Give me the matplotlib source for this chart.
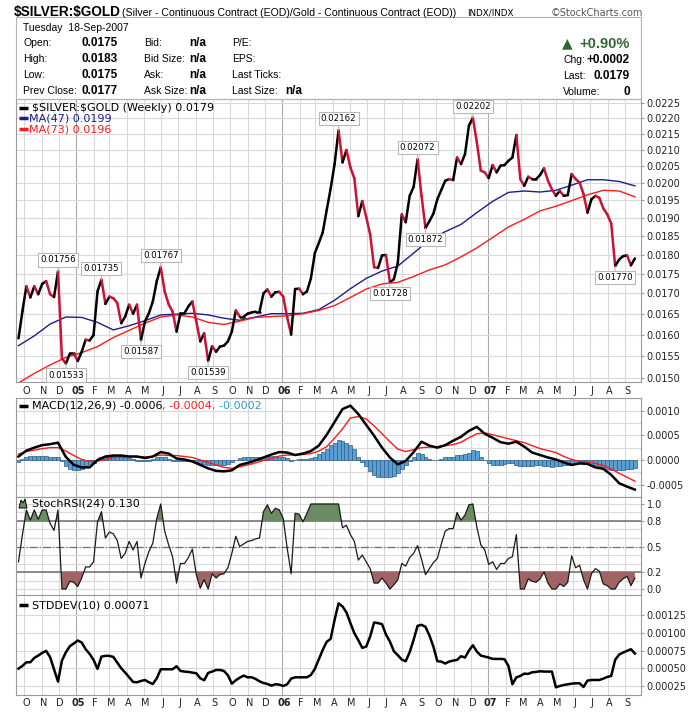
import numpy as np
import pandas as pd
import matplotlib
matplotlib.use('Agg')
import matplotlib.pyplot as plt
from matplotlib.patches import Rectangle, Polygon
from matplotlib.ticker import FixedLocator, NullLocator, NullFormatter, FormatStrFormatter, MultipleLocator

plt.rcParams['font.family'] = ['DejaVu Sans']

# weekly close of $SILVER:$GOLD, 21-Sep-2004 .. 18-Sep-2007
price = [
    0.01591, 0.01656, 0.01718, 0.01690, 0.01718, 0.01698, 0.01724, 0.01731, 0.01698, 0.01691,
    0.01756, 0.01545, 0.01533, 0.01556, 0.01556, 0.01539, 0.01560, 0.01588, 0.01586, 0.01599,
    0.01705, 0.01735, 0.01674, 0.01692, 0.01688, 0.01676, 0.01627, 0.01643, 0.01672, 0.01650,
    0.01672, 0.01587, 0.01631, 0.01651, 0.01680, 0.01731, 0.01767, 0.01705, 0.01673, 0.01655,
    0.01607, 0.01651, 0.01651, 0.01668, 0.01680, 0.01631, 0.01584, 0.01603, 0.01539, 0.01573,
    0.01560, 0.01572, 0.01574, 0.01584, 0.01607, 0.01658, 0.01643, 0.01643, 0.01650, 0.01653,
    0.01655, 0.01655, 0.01700, 0.01710, 0.01692, 0.01703, 0.01704, 0.01692, 0.01641, 0.01600,
    0.01711, 0.01712, 0.01698, 0.01705, 0.01738, 0.01804, 0.01831, 0.01860, 0.01922, 0.01984,
    0.02057, 0.02162, 0.02062, 0.02100, 0.02047, 0.02014, 0.01905, 0.01948, 0.01903, 0.01854,
    0.01767, 0.01765, 0.01798, 0.01799, 0.01728, 0.01736, 0.01778, 0.01910, 0.01888, 0.01963,
    0.01989, 0.02072, 0.01963, 0.01872, 0.01891, 0.01912, 0.01953, 0.01980, 0.02007, 0.02012,
    0.02009, 0.02077, 0.02057, 0.02087, 0.02177, 0.02202, 0.02124, 0.02037, 0.02032, 0.02015,
    0.02054, 0.02032, 0.02052, 0.02054, 0.02067, 0.02077, 0.02147, 0.02012, 0.01992, 0.02019,
    0.02012, 0.02012, 0.02024, 0.02044, 0.02007, 0.01982, 0.01963, 0.01977, 0.01963, 0.01965,
    0.02027, 0.02012, 0.02002, 0.01968, 0.01915, 0.01953, 0.01963, 0.01957, 0.01927, 0.01910,
    0.01885, 0.01770, 0.01787, 0.01796, 0.01798, 0.01772, 0.01790,
]

# moving averages, read every 4th week
ma47 = [
    0.01574, 0.01597, 0.01625, 0.01642, 0.01641, 0.01629, 0.01611, 0.01621, 0.01633, 0.01647,
    0.01649, 0.01651, 0.01647, 0.01639, 0.01634, 0.01642, 0.01650, 0.01650, 0.01651, 0.01660,
    0.01683, 0.01712, 0.01738, 0.01757, 0.01770, 0.01804, 0.01840, 0.01862, 0.01882, 0.01915,
    0.01947, 0.01973, 0.01977, 0.01974, 0.01979, 0.01994, 0.02010, 0.02010, 0.02005, 0.01992,
]
ma73 = [
    0.01490, 0.01511, 0.01530, 0.01547, 0.01558, 0.01572, 0.01593, 0.01610, 0.01627, 0.01642,
    0.01647, 0.01642, 0.01629, 0.01624, 0.01632, 0.01641, 0.01643, 0.01645, 0.01650, 0.01658,
    0.01670, 0.01690, 0.01711, 0.01724, 0.01728, 0.01743, 0.01760, 0.01773, 0.01794, 0.01818,
    0.01846, 0.01875, 0.01896, 0.01920, 0.01933, 0.01949, 0.01966, 0.01979, 0.01977, 0.01960,
]

# MACD(12,26,9) line and signal, read every 2nd week
macd_line = [
    0.00007, 0.00019, 0.00025, 0.00030, 0.00032, 0.00035, 0.00006, -0.00010, -0.00015, -0.00015,
    0.00000, 0.00007, 0.00009, 0.00009, 0.00007, 0.00007, 0.00004, 0.00007, 0.00016, 0.00013,
    0.00003, 0.00001, -0.00003, -0.00010, -0.00017, -0.00022, -0.00023, -0.00021, -0.00010, -0.00006,
    -0.00001, 0.00005, 0.00011, 0.00016, 0.00015, 0.00010, 0.00013, 0.00018, 0.00029, 0.00051,
    0.00077, 0.00103, 0.00110, 0.00093, 0.00071, 0.00049, 0.00025, 0.00005, -0.00009, -0.00002,
    0.00016, 0.00037, 0.00029, 0.00025, 0.00030, 0.00039, 0.00047, 0.00059, 0.00067, 0.00053,
    0.00045, 0.00036, 0.00033, 0.00037, 0.00027, 0.00015, 0.00010, 0.00005, 0.00001, -0.00005,
    -0.00010, -0.00007, -0.00008, -0.00015, -0.00018, -0.00030, -0.00047, -0.00054, -0.00060,
]
macd_signal = [
    0.00012, 0.00017, 0.00020, 0.00023, 0.00025, 0.00025, 0.00018, 0.00009, 0.00001, -0.00003,
    -0.00002, 0.00001, 0.00005, 0.00007, 0.00007, 0.00007, 0.00006, 0.00007, 0.00010, 0.00009,
    0.00009, 0.00007, 0.00005, 0.00000, -0.00005, -0.00010, -0.00015, -0.00017, -0.00014, -0.00010,
    -0.00006, -0.00001, 0.00003, 0.00008, 0.00010, 0.00010, 0.00011, 0.00013, 0.00018, 0.00027,
    0.00044, 0.00063, 0.00085, 0.00088, 0.00083, 0.00069, 0.00053, 0.00037, 0.00022, 0.00017,
    0.00021, 0.00025, 0.00026, 0.00027, 0.00029, 0.00031, 0.00036, 0.00045, 0.00053, 0.00055,
    0.00051, 0.00047, 0.00043, 0.00039, 0.00035, 0.00029, 0.00023, 0.00019, 0.00015, 0.00007,
    0.00001, -0.00003, -0.00004, -0.00007, -0.00011, -0.00018, -0.00027, -0.00035, -0.00043,
]
macd_hist = [
    -0.00005, 0.00002, 0.00007, 0.00008, 0.00009, 0.00009, 0.00009, 0.00009, 0.00007, 0.00007,
    0.00005, -0.00003, -0.00013, -0.00018, -0.00020, -0.00020, -0.00018, -0.00013, -0.00009, -0.00007,
    -0.00001, 0.00005, 0.00007, 0.00007, 0.00008, 0.00007, 0.00006, 0.00005, 0.00004, 0.00002,
    -0.00002, -0.00003, -0.00003, -0.00002, 0.00002, 0.00005, 0.00005, 0.00005, 0.00002, -0.00002,
    -0.00003, -0.00003, -0.00003, -0.00003, -0.00003, -0.00005, -0.00007, -0.00009, -0.00011, -0.00011,
    -0.00011, -0.00011, -0.00010, -0.00008, -0.00005, 0.00000, 0.00003, 0.00005, 0.00005, 0.00005,
    0.00006, 0.00006, 0.00007, 0.00007, 0.00008, 0.00008, 0.00007, 0.00006, 0.00003, -0.00003,
    -0.00001, 0.00001, 0.00002, 0.00002, 0.00003, 0.00007, 0.00012, 0.00017, 0.00023, 0.00030,
    0.00035, 0.00041, 0.00039, 0.00035, 0.00030, 0.00023, 0.00005, -0.00005, -0.00012, -0.00022,
    -0.00031, -0.00035, -0.00035, -0.00035, -0.00035, -0.00033, -0.00027, -0.00018, -0.00010, -0.00002,
    0.00006, 0.00015, 0.00013, 0.00005, 0.00002, 0.00000, 0.00000, 0.00002, 0.00005, 0.00006,
    0.00007, 0.00010, 0.00011, 0.00013, 0.00015, 0.00021, 0.00018, 0.00007, -0.00001, -0.00007,
    -0.00010, -0.00010, -0.00010, -0.00009, -0.00007, -0.00007, -0.00010, -0.00012, -0.00013, -0.00013,
    -0.00013, -0.00011, -0.00011, -0.00012, -0.00013, -0.00014, -0.00013, -0.00012, -0.00011, -0.00010,
    -0.00008, -0.00007, -0.00007, -0.00007, -0.00008, -0.00010, -0.00011, -0.00013, -0.00015, -0.00018,
    -0.00020, -0.00020, -0.00021, -0.00021, -0.00019, -0.00018, -0.00017,
]

stoch_rsi = [
    0.32, 0.64, 0.93, 0.81, 0.93, 0.82, 0.93, 0.93, 0.77, 0.69,
    0.93, 0.00, 0.00, 0.09, 0.08, 0.03, 0.13, 0.26, 0.26, 0.32,
    0.79, 0.91, 0.60, 0.67, 0.65, 0.57, 0.36, 0.42, 0.56, 0.46,
    0.56, 0.13, 0.30, 0.44, 0.54, 0.83, 1.00, 0.68, 0.52, 0.38,
    0.07, 0.30, 0.30, 0.37, 0.47, 0.17, 0.01, 0.11, 0.00, 0.18,
    0.13, 0.17, 0.18, 0.25, 0.42, 0.62, 0.50, 0.53, 0.56, 0.57,
    0.59, 0.60, 0.91, 0.99, 0.89, 0.95, 0.93, 0.83, 0.48, 0.18,
    0.89, 0.88, 0.79, 0.89, 1.00, 1.00, 1.00, 1.00, 1.00, 1.00,
    1.00, 1.00, 0.72, 0.75, 0.64, 0.56, 0.34, 0.40, 0.32, 0.24,
    0.07, 0.07, 0.13, 0.07, 0.00, 0.05, 0.11, 0.30, 0.27, 0.37,
    0.42, 0.51, 0.35, 0.17, 0.24, 0.31, 0.36, 0.53, 0.68, 0.71,
    0.71, 0.90, 0.81, 0.87, 0.99, 1.00, 0.73, 0.52, 0.46, 0.29,
    0.32, 0.23, 0.30, 0.30, 0.36, 0.38, 0.64, 0.00, 0.00, 0.12,
    0.09, 0.08, 0.12, 0.20, 0.07, 0.00, 0.00, 0.06, 0.03, 0.08,
    0.39, 0.25, 0.28, 0.11, 0.00, 0.18, 0.24, 0.21, 0.06, 0.04,
    0.00, 0.00, 0.08, 0.12, 0.15, 0.04, 0.13,
]

stddev10 = [
    0.000496, 0.000534, 0.000586, 0.000586, 0.000648, 0.000681, 0.000719, 0.000748, 0.000658, 0.000487,
    0.000312, 0.000610, 0.000729, 0.000814, 0.000852, 0.000895, 0.000866, 0.000771, 0.000705, 0.000620,
    0.000492, 0.000667, 0.000677, 0.000677, 0.000662, 0.000582, 0.000501, 0.000440, 0.000373, 0.000307,
    0.000302, 0.000321, 0.000335, 0.000302, 0.000278, 0.000359, 0.000487, 0.000487, 0.000487, 0.000487,
    0.000530, 0.000463, 0.000454, 0.000449, 0.000440, 0.000430, 0.000359, 0.000331, 0.000435, 0.000454,
    0.000477, 0.000477, 0.000463, 0.000402, 0.000283, 0.000331, 0.000368, 0.000397, 0.000373, 0.000373,
    0.000350, 0.000316, 0.000293, 0.000278, 0.000255, 0.000274, 0.000269, 0.000250, 0.000274, 0.000354,
    0.000373, 0.000373, 0.000373, 0.000373, 0.000406, 0.000492, 0.000629, 0.000762, 0.000876, 0.000918,
    0.001188, 0.001421, 0.001378, 0.001293, 0.001141, 0.000999, 0.000899, 0.000790, 0.000809, 0.000951,
    0.001150, 0.001141, 0.001127, 0.000980, 0.000880, 0.000743, 0.000686, 0.000624, 0.000601, 0.000729,
    0.000904, 0.001103, 0.001117, 0.001089, 0.000966, 0.000809, 0.000601, 0.000596, 0.000568, 0.000596,
    0.000610, 0.000620, 0.000672, 0.000653, 0.000752, 0.000828, 0.000738, 0.000681, 0.000667, 0.000653,
    0.000634, 0.000634, 0.000634, 0.000629, 0.000534, 0.000274, 0.000373, 0.000392, 0.000425, 0.000421,
    0.000444, 0.000449, 0.000459, 0.000454, 0.000454, 0.000454, 0.000231, 0.000250, 0.000264, 0.000274,
    0.000283, 0.000288, 0.000288, 0.000236, 0.000326, 0.000335, 0.000335, 0.000335, 0.000354, 0.000378,
    0.000392, 0.000620, 0.000695, 0.000724, 0.000748, 0.000771, 0.000710,
]

# labelled highs / lows on the price line
ann_weeks = [10, 12, 21, 31, 36, 48, 81, 94, 101, 103, 115, 151]
ann_above = [True, False, True, False, True, False, True, False, True, False, True, False]

# header box
hdr_labels = ['Open:', 'High:', 'Low:', 'Prev Close:']
hdr_values = ['0.0175', '0.0183', '0.0175', '0.0177']
hdr_mid = ['Bid:', 'Bid Size:', 'Ask:', 'Ask Size:']
hdr_right = ['P/E:', 'EPS:', 'Last Ticks:', 'Last Size:']
pct_change = '+0.90%'
chg = '+0.0002'
last = '0.0179'
volume = '0'

price_ticks = np.arange(0.0150, 0.02251, 0.0005)
macd_ticks = [-0.0005, 0.0, 0.0005, 0.0010]
rsi_ticks = [0.0, 0.2, 0.5, 0.8, 1.0]
sd_ticks = [0.00025, 0.0005, 0.00075, 0.0010, 0.00125]

dates = pd.date_range('2004-09-21', periods=len(price), freq='7D')
months = pd.date_range('2004-10-01', '2007-09-01', freq='MS')

UP, DOWN = 'black', '#cc1133'
NAVY, RED = '#1c1c8e', '#ff1a1a'
GRID, YEAR = '#d9d9d9', '#a9a9a9'
W, H = 700, 712

fig = plt.figure(figsize=(7, 7.12), dpi=100, facecolor='white')


def rect(x0, y0, x1, y1):
    return [x0 / W, 1 - y1 / H, (x1 - x0) / W, (y1 - y0) / H]


def ftext(x, y, s, **kw):
    kw.setdefault('va', 'center')
    return fig.text(x / W, 1 - y / H, s, **kw)


ax_p = fig.add_axes(rect(16, 99, 641, 382))
ax_m = fig.add_axes(rect(16, 398, 641, 497))
ax_r = fig.add_axes(rect(16, 497, 641, 595))
ax_s = fig.add_axes(rect(16, 595, 641, 695))

x_lo = dates[0] - pd.Timedelta(days=4.4)
x_hi = dates[-1] + pd.Timedelta(days=10.8)


def style(ax, ticks, fmt, ylim, minor=None):
    ax.set_xlim(x_lo, x_hi)
    ax.set_ylim(*ylim)
    ax.yaxis.tick_right()
    ax.yaxis.set_major_locator(FixedLocator(ticks))
    ax.yaxis.set_major_formatter(FormatStrFormatter(fmt))
    if minor:
        ax.yaxis.set_minor_locator(MultipleLocator(minor))
        ax.grid(axis='y', which='minor', color=GRID, lw=0.8)
    else:
        ax.yaxis.set_minor_locator(NullLocator())
    ax.yaxis.set_minor_formatter(NullFormatter())
    ax.tick_params(axis='y', which='major', length=2, labelsize=7, color='#999999', pad=2, labelcolor='#222222')
    ax.tick_params(axis='y', which='minor', length=0)
    ax.tick_params(axis='x', length=0)
    ax.grid(axis='y', which='major', color=GRID, lw=0.8)
    for m in months:
        ax.axvline(m, color=YEAR if m.month == 1 else GRID, lw=0.8, zorder=0)
    for s in ax.spines.values():
        s.set_color('#9a9a9a')
        s.set_linewidth(0.8)
    ax.set_axisbelow(True)


def month_axis(ax, pad):
    ax.set_xticks(months + pd.Timedelta(days=3))
    ax.set_xticklabels([f'{m:%y}' if m.month == 1 else f'{m:%b}'[0] for m in months], fontsize=7)
    for lab, m in zip(ax.get_xticklabels(), months):
        if m.month == 1:
            lab.set_fontweight('bold')
    ax.tick_params(axis='x', pad=pad, labelcolor='#222222')


def legend(ax, dx, dy, s, color='black', after=None):
    if after is not None:
        return ax.annotate(s, xy=(1, 0), xycoords=after, va='bottom', ha='left',
                           fontsize=8, color=color, zorder=8)
    return ax.annotate(s, xy=(0, 1), xycoords='axes fraction', xytext=(dx, -dy),
                       textcoords='offset pixels', va='center', ha='left',
                       fontsize=8, color=color, zorder=8)


def marker(ax, dy, hpx, color):
    y = 1 - dy / hpx
    ax.plot([3 / 625, 12 / 625], [y, y], transform=ax.transAxes, color=color,
            lw=2.5, solid_capstyle='butt', clip_on=False, zorder=8)


# ---- price panel
ax_p.set_yscale('log')
style(ax_p, price_ticks, '%.4f', (0.01492, 0.02264))
month_axis(ax_p, 3)
for k in range(len(price) - 1):
    c = UP if price[k + 1] >= price[k] else DOWN
    ax_p.plot(dates[k:k + 2], price[k:k + 2], color=c, lw=1.8, solid_capstyle='round', zorder=4)
ax_p.plot(dates[::4], ma47, color=NAVY, lw=1.0, zorder=3)
ax_p.plot(dates[::4], ma73, color=RED, lw=1.0, zorder=3)
for k, up in zip(ann_weeks, ann_above):
    ax_p.annotate(f'{price[k]:.5f}', xy=(dates[k], price[k]), xytext=(0, 5 if up else -5),
                  textcoords='offset points', ha='center', va='bottom' if up else 'top',
                  fontsize=6.2, color='black', zorder=6,
                  bbox=dict(boxstyle='square,pad=0.25', fc='white', ec='#b8b8b8', lw=0.8),
                  arrowprops=dict(arrowstyle='-', color='#b8b8b8', lw=0.8, shrinkA=0, shrinkB=0))
marker(ax_p, 8.7, 283, 'black')
marker(ax_p, 19.3, 283, NAVY)
marker(ax_p, 30.3, 283, RED)
legend(ax_p, 16, 8.7, f'\\$SILVER:\\$GOLD (Weekly) {price[-1]:.4f}')
legend(ax_p, 13, 19.3, f'MA(47) {ma47[-1]:.4f}', NAVY)
legend(ax_p, 13, 30.3, f'MA(73) {ma73[-1]:.4f}', RED)

# ---- MACD panel
style(ax_m, macd_ticks, '%.4f', (-0.00075, 0.001255), minor=0.00025)
ax_m.set_xticks([])
ax_m.bar(dates, macd_hist, width=7, color='#5a9fd4', edgecolor='#2a5d8c', lw=0.5, zorder=2)
ax_m.plot(dates[::2], macd_line, color='black', lw=1.8, zorder=4)
ax_m.plot(dates[::2], macd_signal, color=RED, lw=1.0, zorder=3)
marker(ax_m, 7.7, 99, 'black')
t1 = legend(ax_m, 16, 7.7, f'MACD(12,26,9) {macd_line[-1]:.4f}')
t2 = legend(ax_m, 0, 0, f', {macd_signal[-1]:.4f}', RED, after=t1)
legend(ax_m, 0, 0, f', {macd_hist[-1]:.4f}', '#3399cc', after=t2)

# ---- StochRSI panel
rsi = np.array(stoch_rsi)
style(ax_r, rsi_ticks, '%.1f', (-0.07, 1.082), minor=0.1)
ax_r.set_xticks([])
ax_r.axhline(0.8, color='#6e6e6e', lw=1.1, zorder=1)
ax_r.axhline(0.2, color='#6e6e6e', lw=1.1, zorder=1)
ax_r.axhline(0.5, color='#6e6e6e', lw=0.9, ls='-.', zorder=1)
ax_r.fill_between(dates, rsi, 0.8, where=rsi >= 0.8, interpolate=True, color='#6b8c62', lw=0, zorder=2)
ax_r.fill_between(dates, rsi, 0.2, where=rsi <= 0.2, interpolate=True, color='#a06464', lw=0, zorder=2)
ax_r.plot(dates, rsi, color='#1a1a1a', lw=0.9, zorder=3)
icon = [(3, 11), (5, 3), (7, 6), (9, 2), (11, 11)]
ax_r.add_patch(Polygon([(x / 625, 1 - y / 98) for x, y in icon], closed=True, transform=ax_r.transAxes,
                       fc='#6b8c62', ec='black', lw=0.7, clip_on=False, zorder=8))
legend(ax_r, 16, 7, f'StochRSI(24) {rsi[-1]:.3f}')

# ---- STDDEV panel
style(ax_s, sd_ticks, '%.5f', (0.000122, 0.00154))
month_axis(ax_s, 2.5)
ax_s.plot(dates, stddev10, color='black', lw=1.8, zorder=3)
marker(ax_s, 10, 100, 'black')
legend(ax_s, 16, 10, f'STDDEV(10) {stddev10[-1]:.5f}')

# ---- title and header box
sans = ['Liberation Sans', 'DejaVu Sans']
ftext(14, 12, '\\$SILVER:\\$GOLD', fontsize=9.8, fontweight='bold', family=sans)
ftext(122, 12.5, '(Silver - Continuous Contract (EOD)/Gold - Continuous Contract (EOD))',
      fontsize=7.6, family=sans)
ftext(467, 12.5, 'INDX/INDX', fontsize=6.3)
ftext(551, 12.5, '\u00a9StockCharts.com', fontsize=7, color='#555555')

fig.add_artist(Rectangle((16 / W, 1 - 99 / H), 625 / W, (99 - 16.7) / H, transform=fig.transFigure,
                         fill=False, ec='#b3b3b3', lw=0.8))
ftext(23, 28, 'Tuesday  18-Sep-2007', fontsize=7.5, family=sans)
for k, y in enumerate([43.5, 59.5, 75.5, 91]):
    ftext(23, y, hdr_labels[k], fontsize=7.5, family=sans)
    ftext(82, y, hdr_values[k], fontsize=8.5, fontweight='bold', family=sans)
    ftext(144, y, hdr_mid[k], fontsize=7.5, family=sans)
    ftext(189, y, 'n/a', fontsize=8.5, fontweight='bold', family=sans)
    ftext(232, y, hdr_right[k], fontsize=7.5, family=sans)
ftext(285, 91, 'n/a', fontsize=8.5, fontweight='bold', family=sans)

ftext(562, 43.5, '\u25b2', fontsize=10, color='#336633')
ftext(630, 43.5, pct_change, fontsize=10.5, fontweight='bold', color='#336633', ha='right', family=sans)
ftext(563, 60, 'Chg:', fontsize=7.5, family=sans)
ftext(630, 60, chg, fontsize=8.5, fontweight='bold', ha='right', family=sans)
ftext(563, 76, 'Last:', fontsize=7.5, family=sans)
ftext(630, 76, last, fontsize=8.5, fontweight='bold', ha='right', family=sans)
ftext(563, 92, 'Volume:', fontsize=7.5, family=sans)
ftext(630, 92, volume, fontsize=8.5, fontweight='bold', ha='right', family=sans)

fig.savefig('out.png', dpi=100, facecolor='white')
